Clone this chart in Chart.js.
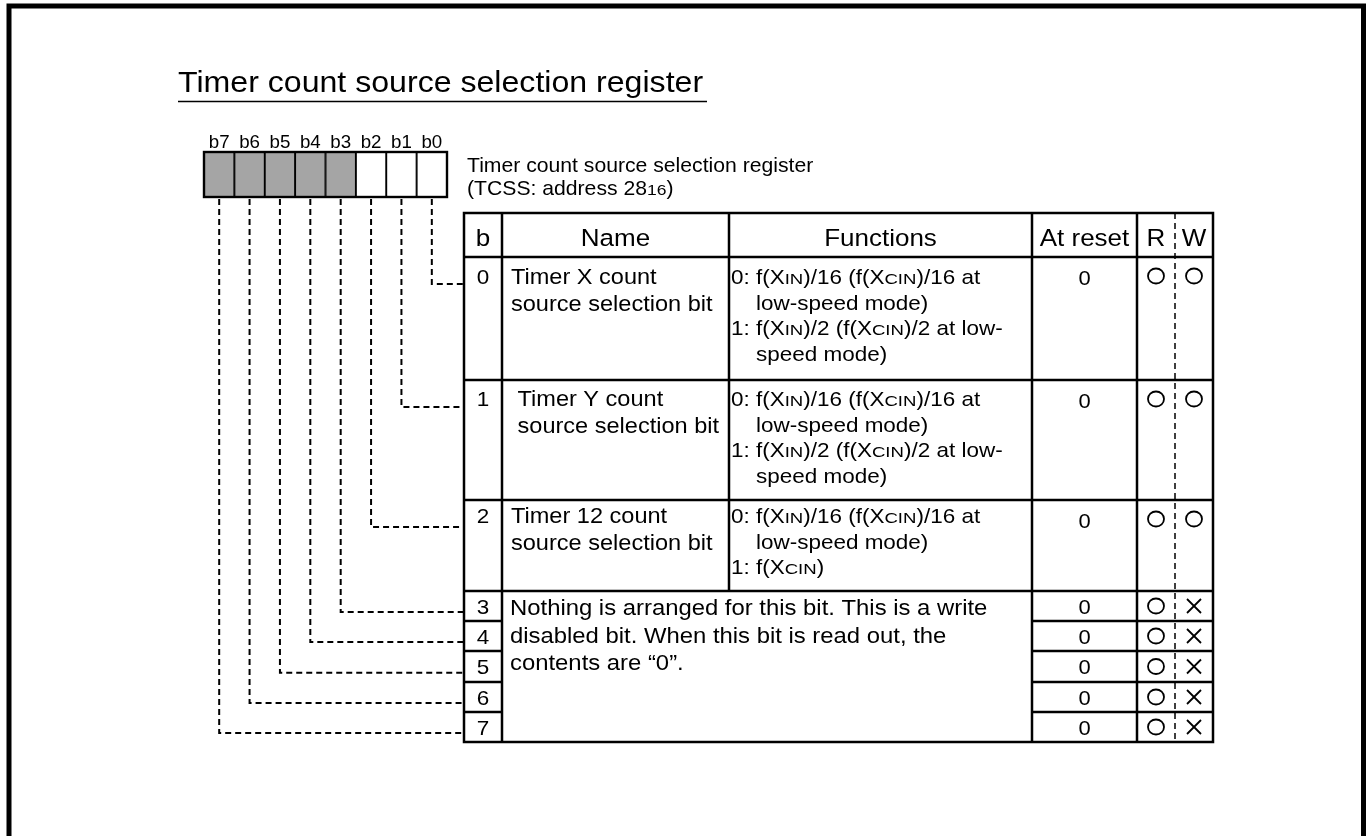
<!DOCTYPE html>
<html lang="en">
<head>
    <meta charset="UTF-8">
    <title>Timer count source selection register</title>
    <script src="https://cdn.jsdelivr.net/npm/chart.js"></script>
    <style>
        html, body { margin: 0; padding: 0; background: #fff; }
        canvas { display: block; background: #fff; }
    </style>
</head>
<body>
    <canvas id="regChart" width="1369" height="836"></canvas>

    <script>
        // Register content
        const titleText = 'Timer count source selection register';
        const registerLabel = ['Timer count source selection register', '(TCSS: address 28[16])'];
        const bitLabels = ['b7', 'b6', 'b5', 'b4', 'b3', 'b2', 'b1', 'b0'];
        const bitUsed = [false, false, false, false, false, true, true, true];
        const headers = ['b', 'Name', 'Functions', 'At reset', 'R', 'W'];
        const bitNumbers = ['0', '1', '2', '3', '4', '5', '6', '7'];
        const bitNames = [
            ['Timer X count', 'source selection bit'],
            [' Timer Y count', ' source selection bit'],
            ['Timer 12 count', 'source selection bit']
        ];
        const bitFunctions = [
            ['0: f(X[IN])/16 (f(X[CIN])/16 at', '  low-speed mode)', '1: f(X[IN])/2 (f(X[CIN])/2 at low-', '  speed mode)'],
            ['0: f(X[IN])/16 (f(X[CIN])/16 at', '  low-speed mode)', '1: f(X[IN])/2 (f(X[CIN])/2 at low-', '  speed mode)'],
            ['0: f(X[IN])/16 (f(X[CIN])/16 at', '  low-speed mode)', '1: f(X[CIN])']
        ];
        const reservedNote = [
            'Nothing is arranged for this bit. This is a write',
            'disabled bit. When this bit is read out, the',
            'contents are \u201c0\u201d.'
        ];
        const resetValues = ['0', '0', '0', '0', '0', '0', '0', '0'];
        const readable = [true, true, true, true, true, true, true, true];
        const writable = [true, true, true, false, false, false, false, false];

        // Layout (page units)
        const W = 1369, H = 836;
        const FONT = '"Liberation Sans", Arial, Helvetica, sans-serif';
        const SX = 1.07; // text is drawn slightly wide, like the scan
        const SMALL = 0.72, SMALL_SX = 1.15; // small letters (X-IN, 28-16) are short but wide
        const REG = { left: 204, top: 152, bottom: 197, cellW: 30.375, labelY: 148 };
        const COLS = [464, 502, 729, 1032, 1137, 1175, 1213];
        const ROWS = [213, 257, 380, 500, 591, 621, 651, 682, 712, 742];
        const ROW_TEXT_DY = [27, 26, 23];

        function richParts(str, size) {
            const parts = [];
            str.split(/(\[[^\]]*\])/).forEach(p => {
                if (!p) return;
                if (p[0] === '[') parts.push({ t: p.slice(1, -1), s: size * SMALL, sx: SX * SMALL_SX });
                else parts.push({ t: p, s: size, sx: SX });
            });
            return parts;
        }

        function drawText(ctx, str, x, y, size, align) {
            const parts = richParts(str, size);
            let width = 0;
            parts.forEach(p => {
                ctx.font = p.s + 'px ' + FONT;
                p.w = ctx.measureText(p.t).width * p.sx;
                width += p.w;
            });
            let cx = align === 'center' ? x - width / 2 : x;
            ctx.textAlign = 'left';
            ctx.textBaseline = 'alphabetic';
            parts.forEach(p => {
                ctx.font = p.s + 'px ' + FONT;
                ctx.save();
                ctx.translate(cx, y);
                ctx.scale(p.sx, 1);
                ctx.fillText(p.t, 0, 0);
                ctx.restore();
                cx += p.w;
            });
        }

        function line(ctx, x1, y1, x2, y2) {
            ctx.beginPath();
            ctx.moveTo(x1, y1);
            ctx.lineTo(x2, y2);
            ctx.stroke();
        }

        const diagramPlugin = {
            id: 'registerDiagram',
            afterDatasetsDraw(chart) {
                const ctx = chart.ctx;
                const px = v => chart.scales.x.getPixelForValue(v);
                const py = v => chart.scales.y.getPixelForValue(v);
                const bars = chart.getDatasetMeta(0).data;
                ctx.save();
                ctx.fillStyle = '#000';
                ctx.strokeStyle = '#000';

                // page frame
                ctx.lineWidth = 5;
                ctx.strokeRect(px(9), py(6), px(1363.5) - px(9), py(900) - py(6));

                // title + underline
                drawText(ctx, titleText, px(178), py(92), 30, 'left');
                ctx.lineWidth = 1.5;
                line(ctx, px(178), py(101.5), px(707), py(101.5));

                // register outline + bit labels
                ctx.lineWidth = 2.4;
                ctx.strokeRect(px(REG.left), py(REG.top), px(REG.left + REG.cellW * 8) - px(REG.left), py(REG.bottom) - py(REG.top));
                bars.forEach((bar, i) => drawText(ctx, bitLabels[i], bar.x, py(REG.labelY), 17.5, 'center'));

                // register name
                drawText(ctx, registerLabel[0], px(467), py(172), 19.8, 'left');
                drawText(ctx, registerLabel[1], px(467), py(195), 19.8, 'left');

                // dashed connectors
                ctx.lineWidth = 2;
                ctx.setLineDash([6, 4]);
                bitNumbers.forEach((n, k) => {
                    const bar = bars[7 - k];
                    const top = ROWS[k + 1], h = ROWS[k + 2] - top;
                    const yc = k < 3 ? top + 27 : top + h * 0.7;
                    ctx.beginPath();
                    ctx.moveTo(bar.x, py(REG.bottom + 2));
                    ctx.lineTo(bar.x, py(yc));
                    ctx.lineTo(px(COLS[0]), py(yc));
                    ctx.stroke();
                });
                ctx.setLineDash([]);

                // table grid
                ctx.lineWidth = 2.5;
                ctx.strokeRect(px(COLS[0]), py(ROWS[0]), px(COLS[6]) - px(COLS[0]), py(ROWS[9]) - py(ROWS[0]));
                for (let i = 1; i <= 8; i++) {
                    if (i <= 4) {
                        line(ctx, px(COLS[0]), py(ROWS[i]), px(COLS[6]), py(ROWS[i]));
                    } else {
                        line(ctx, px(COLS[0]), py(ROWS[i]), px(COLS[1]), py(ROWS[i]));
                        line(ctx, px(COLS[3]), py(ROWS[i]), px(COLS[6]), py(ROWS[i]));
                    }
                }
                line(ctx, px(COLS[1]), py(ROWS[0]), px(COLS[1]), py(ROWS[9]));
                line(ctx, px(COLS[2]), py(ROWS[0]), px(COLS[2]), py(ROWS[4]));
                line(ctx, px(COLS[3]), py(ROWS[0]), px(COLS[3]), py(ROWS[9]));
                line(ctx, px(COLS[4]), py(ROWS[0]), px(COLS[4]), py(ROWS[9]));
                ctx.lineWidth = 1.5;
                ctx.setLineDash([6, 4]);
                line(ctx, px(COLS[5]), py(ROWS[0]), px(COLS[5]), py(ROWS[9]));
                ctx.setLineDash([]);

                // header
                const hy = py(ROWS[0] + 33);
                headers.forEach((hd, i) => {
                    const c = (COLS[i] + COLS[i + 1]) / 2;
                    drawText(ctx, hd, px(c), hy, 24.3, 'center');
                });

                // rows
                const colMid = i => px((COLS[i] + COLS[i + 1]) / 2);
                bitNumbers.forEach((n, k) => {
                    const top = ROWS[k + 1], bottom = ROWS[k + 2];
                    const big = k < 3;
                    const ty = big ? top + ROW_TEXT_DY[k] : (top + bottom) / 2 + 7.5;
                    drawText(ctx, n, colMid(0), py(ty), 21, 'center');
                    if (big) {
                        bitNames[k].forEach((t, j) => drawText(ctx, t, px(511), py(ty + j * 26.5), 22, 'left'));
                        ctx.font = '21px ' + FONT;
                        const indent = ctx.measureText('0: ').width * SX;
                        bitFunctions[k].forEach((t, j) => {
                            const ind = t.startsWith('  ');
                            drawText(ctx, ind ? t.trim() : t, px(731) + (ind ? indent : 0), py(ty + j * 25.7), 21, 'left');
                        });
                    }
                    const ry = big ? top + 28 : ty;
                    drawText(ctx, resetValues[k], colMid(3), py(ry), 20.5, 'center');
                    const cy = big ? top + 19 : (top + bottom) / 2;
                    ctx.lineWidth = 1.8;
                    if (readable[k]) {
                        ctx.beginPath();
                        ctx.ellipse(colMid(4), py(cy), 8, 7.5, 0, 0, Math.PI * 2);
                        ctx.stroke();
                    }
                    const wx = colMid(5);
                    if (writable[k]) {
                        ctx.beginPath();
                        ctx.ellipse(wx, py(cy), 8, 7.5, 0, 0, Math.PI * 2);
                        ctx.stroke();
                    } else {
                        line(ctx, wx - 7, py(cy) - 7, wx + 7, py(cy) + 7);
                        line(ctx, wx + 7, py(cy) - 7, wx - 7, py(cy) + 7);
                    }
                });
                reservedNote.forEach((t, j) => drawText(ctx, t, px(510), py(615 + j * 27.5), 22.3, 'left'));

                ctx.restore();
            }
        };

        // Bit cells as floating bars
        const regCtx = document.getElementById('regChart').getContext('2d');
        const regChart = new Chart(regCtx, {
            type: 'bar',
            data: {
                datasets: [{
                    data: bitLabels.map((b, i) => ({ x: REG.left + (i + 0.5) * REG.cellW, y: [REG.top, REG.bottom] })),
                    backgroundColor: bitUsed.map(u => u ? '#ffffff' : '#a5a5a5'),
                    borderColor: '#000',
                    borderWidth: 1.3,
                    borderSkipped: false,
                    barPercentage: 1,
                    categoryPercentage: 1
                }]
            },
            options: {
                responsive: false,
                animation: false,
                layout: { padding: 0 },
                plugins: { legend: { display: false }, tooltip: { enabled: false } },
                scales: {
                    x: { type: 'linear', min: 0, max: W, offset: false, display: false },
                    y: { type: 'linear', min: 0, max: H, reverse: true, display: false }
                }
            },
            plugins: [diagramPlugin]
        });
    </script>
</body>
</html>
